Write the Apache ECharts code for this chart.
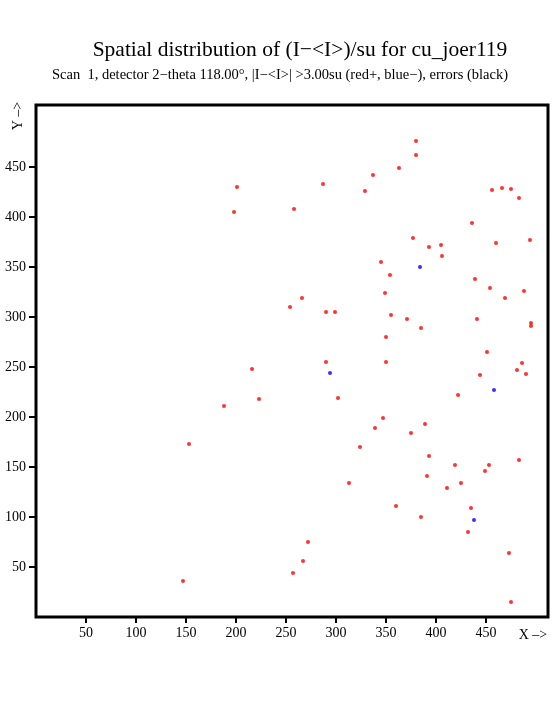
<!DOCTYPE html>
<html><head><meta charset="utf-8">
<script src="https://cdn.jsdelivr.net/npm/echarts@6/dist/echarts.min.js"></script>
<style>html,body{margin:0;padding:0;background:#fff}#c{width:555px;height:725px}</style>
</head><body><div id="c"></div>
<script>
const titleText = 'Spatial distribution of (I\u2212<I>)/su for cu_joer119';
const subtitleText = 'Scan  1, detector 2\u2212theta 118.00\u00b0, |I\u2212<I>| >3.00su (red+, blue\u2212), errors (black)';
const xTicks = [50,100,150,200,250,300,350,400,450];
const yTicks = [50,100,150,200,250,300,350,400,450];
const redX = [380,380,363,337,287,329,258,456,466,475,483,436,377,393,405,406,345,354,349,266,254,290,299,355,371,385,439,454,469,488,460,494,441,495,495,350,451,290,350,486,481,490,444,422,302,347,339,389,375,324,393,419,453,449,483,391,313,425,411,360,385,435,432,473,272,267,257,475,201,198,216,223,188,153,147];
const redY = [476,462,449,442,433,426,408,427,429,428,419,394,379,370,372,361,355,342,324,319,310,305,305,302,298,289,338,329,319,326,374,377,298,294,291,280,265,255,255,254,247,243,242,222,219,199,189,193,184,170,161,152,152,146,157,141,134,134,129,111,100,109,85,64,75,56,44,15,430,405,248,218,211,173,36];
const blueX = [384,294,458,438];
const blueY = [350,244,227,97];

const chart = echarts.init(document.getElementById('c'), null, {renderer:'canvas'});
const F = 'Liberation Serif, Times New Roman, serif';
chart.setOption({
  animation:false,
  backgroundColor:'#fff',
  grid:{left:36,top:105,width:512,height:512,show:true,borderColor:'#000',borderWidth:3,backgroundColor:'transparent'},
  xAxis:{type:'value',min:0,max:512,splitLine:{show:false},
    axisLine:{show:false},
    axisTick:{show:true,customValues:xTicks,length:6,lineStyle:{color:'#000',width:2}},
    axisLabel:{customValues:xTicks,color:'#000',fontFamily:F,fontSize:14,margin:9}},
  yAxis:{type:'value',min:0,max:512,splitLine:{show:false},
    axisLine:{show:false},
    axisTick:{show:true,customValues:yTicks,length:7,lineStyle:{color:'#000',width:2}},
    axisLabel:{customValues:yTicks,color:'#000',fontFamily:F,fontSize:14,margin:10}},
  series:[
    {type:'scatter',data:redX.map((x,i)=>[x,redY[i]]),symbol:'circle',symbolSize:4,itemStyle:{color:'#ff0000'},silent:true},
    {type:'scatter',data:blueX.map((x,i)=>[x,blueY[i]]),symbol:'circle',symbolSize:4,itemStyle:{color:'#0000ff'},silent:true}
  ],
  graphic:[
    {type:'text',x:300,y:50,style:{text:titleText,fill:'#000',font:'21.5px '+F,align:'center',verticalAlign:'middle'}},
    {type:'text',x:280,y:75,style:{text:subtitleText,fill:'#000',font:'14.5px '+F,align:'center',verticalAlign:'middle'}},
    {type:'text',x:533,y:635,style:{text:'X \u2013>',fill:'#000',font:'14px '+F,align:'center',verticalAlign:'middle'}},
    {type:'text',x:18,y:116,rotation:Math.PI/2,style:{text:'Y \u2013>',fill:'#000',font:'14px '+F,align:'center',verticalAlign:'middle'}}
  ]
});
</script></body></html>
